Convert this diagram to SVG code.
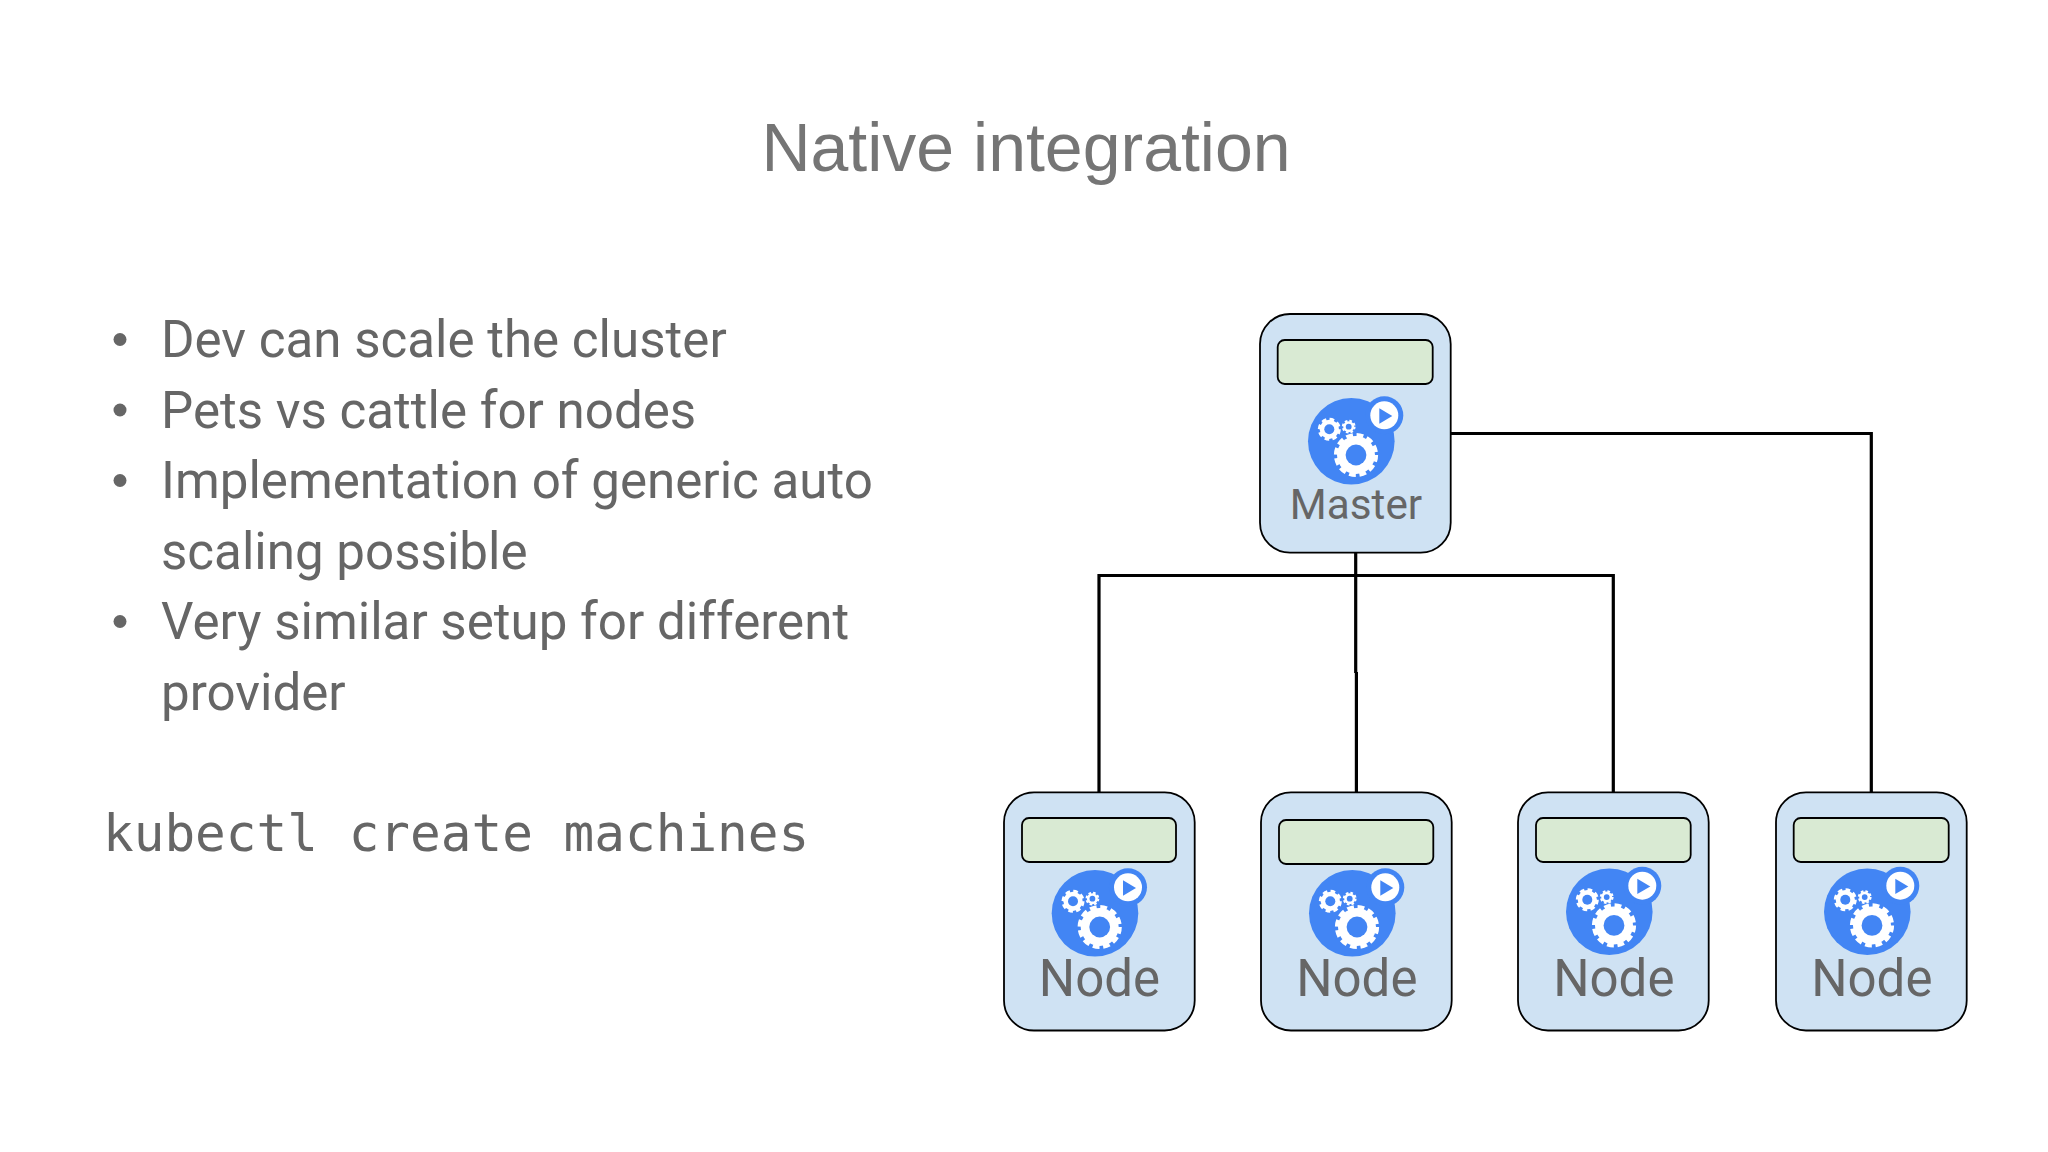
<svg xmlns="http://www.w3.org/2000/svg" xmlns:xlink="http://www.w3.org/1999/xlink" width="2048" height="1152" viewBox="0 0 2048 1152">
<style>
.box{fill:#cfe2f3;stroke:#000;stroke-width:1.8}
.bar{fill:#d9ead3;stroke:#000;stroke-width:1.8}
.lbl{font-family:Roboto,"Liberation Sans",sans-serif;fill:#666;text-anchor:middle}
.nl{font-size:51px}
.ml{font-size:42.3px}
.body{font-family:Roboto,"Liberation Sans",sans-serif;font-size:51.1px;fill:#666}
.con{fill:none;stroke:#000;stroke-width:3.2}
.b{fill:#4285f4}
.w{fill:#fff}
</style>
<defs>
<g id="logo">
<circle class="b" r="43.3"/>
<circle class="b" cx="33" cy="-26" r="19"/>
<circle class="w" cx="33" cy="-26" r="14"/>
<path class="b" d="M28-33L41-25.3 28-17.6Z"/>
<circle class="w" cx="4.7" cy="13.7" r="19"/>
<circle cx="4.7" cy="13.7" r="19.6" fill="none" stroke="#fff" stroke-width="5" stroke-dasharray="6.6 3.66"/>
<circle class="b" cx="4.7" cy="13.7" r="10.4"/>
<circle class="w" cx="-22" cy="-12" r="9.6"/>
<circle cx="-22" cy="-12" r="10" fill="none" stroke="#fff" stroke-width="3" stroke-dasharray="4.6 3.25"/>
<circle class="b" cx="-22" cy="-12" r="5"/>
<circle class="w" cx="-2.6" cy="-14.6" r="5.5"/>
<circle cx="-2.6" cy="-14.6" r="5.9" fill="none" stroke="#fff" stroke-width="2" stroke-dasharray="2.6 2.03"/>
<circle class="b" cx="-2.6" cy="-14.6" r="2.9"/>
</g>
</defs>
<rect width="2048" height="1152" fill="#fff"/>
<g id="title"><text x="1026" y="170.5" font-family="'Liberation Sans',Arial,sans-serif" font-size="68" fill="#757575" text-anchor="middle">Native integration</text></g>
<g id="bullets">
<circle cx="120" cy="339.5" r="6.5" fill="#666"/>
<circle cx="120" cy="410" r="6.5" fill="#666"/>
<circle cx="120" cy="480.5" r="6.5" fill="#666"/>
<circle cx="120" cy="621.5" r="6.5" fill="#666"/>
<text class="body" x="161" y="357.3">Dev can scale the cluster</text>
<text class="body" x="161" y="427.8">Pets vs cattle for nodes</text>
<text class="body" x="161" y="498.3">Implementation of generic auto</text>
<text class="body" x="161" y="568.8">scaling possible</text>
<text class="body" x="161" y="639.3">Very similar setup for different</text>
<text class="body" x="161" y="709.8">provider</text>
</g>
<g id="command"><text x="103" y="851" font-family="'DejaVu Sans Mono','Liberation Mono',monospace" font-size="51" fill="#666">kubectl create machines</text></g>
<g id="connectors">
<path class="con" d="M1451 433.5H1871.3V792"/>
<path class="con" d="M1099 792V575.5H1613.3V792"/>
<path class="con" d="M1355.7 553V673"/>
<path class="con" d="M1356.4 672V792"/>
</g>
<g id="master">
<rect class="box" x="1260" y="314" width="190.7" height="238.7" rx="30"/>
<rect class="bar" x="1277.7" y="340" width="155" height="44" rx="7"/>
<use xlink:href="#logo" href="#logo" x="1351.3" y="441.3"/>
<text class="lbl ml" x="1356" y="518.5">Master</text>
</g>
<g id="node1">
<rect class="box" x="1004" y="792.3" width="190.7" height="238.2" rx="30"/>
<rect class="bar" x="1022" y="818" width="154" height="44" rx="7"/>
<use xlink:href="#logo" href="#logo" x="1095" y="913.3"/>
<text class="lbl nl" x="1099.5" y="995.5">Node</text>
</g>
<g id="node2">
<rect class="box" x="1261" y="792.3" width="190.7" height="238.2" rx="30"/>
<rect class="bar" x="1279" y="820" width="154.3" height="44" rx="7"/>
<use xlink:href="#logo" href="#logo" x="1352.3" y="913.3"/>
<text class="lbl nl" x="1356.8" y="995.5">Node</text>
</g>
<g id="node3">
<rect class="box" x="1518" y="792.3" width="190.7" height="238.2" rx="30"/>
<rect class="bar" x="1536" y="818" width="154.7" height="44" rx="7"/>
<use xlink:href="#logo" href="#logo" x="1609.3" y="911.7"/>
<text class="lbl nl" x="1613.8" y="995.5">Node</text>
</g>
<g id="node4">
<rect class="box" x="1776" y="792.3" width="190.7" height="238.2" rx="30"/>
<rect class="bar" x="1793.7" y="818" width="155" height="44" rx="7"/>
<use xlink:href="#logo" href="#logo" x="1867.3" y="911.7"/>
<text class="lbl nl" x="1871.8" y="995.5">Node</text>
</g>
</svg>
